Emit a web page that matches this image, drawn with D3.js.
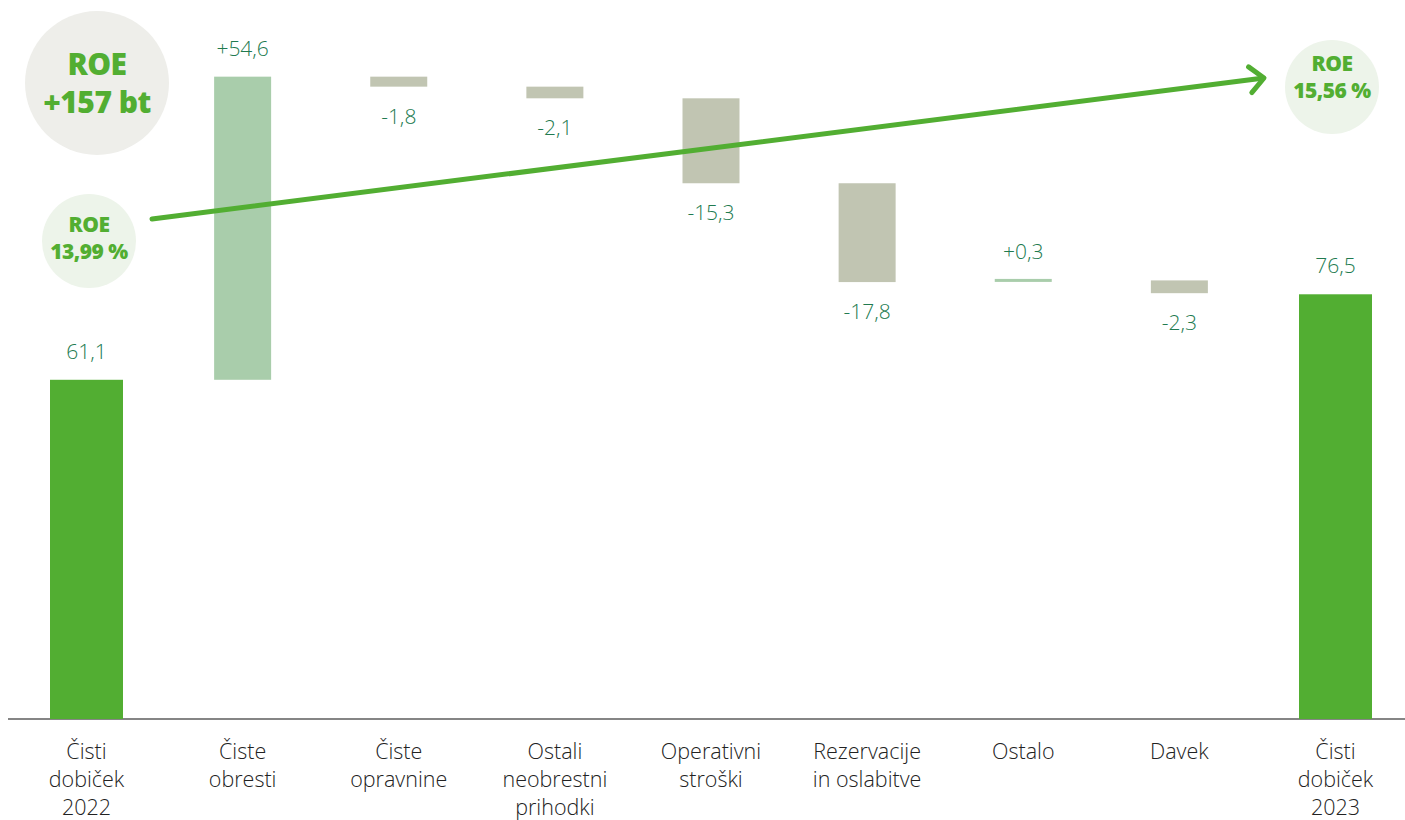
<!DOCTYPE html>
<html><head><meta charset="utf-8">
<script src="https://cdn.jsdelivr.net/npm/d3@7"></script>
<style>
html,body{margin:0;padding:0;background:#fff;}
svg{display:block;font-family:"Open Sans","Noto Sans",sans-serif;}
</style></head>
<body><svg id="chart" width="1405" height="820"></svg>
<script>
const categories = [
  ["Čisti","dobiček","2022"],
  ["Čiste","obresti"],
  ["Čiste","opravnine"],
  ["Ostali","neobrestni","prihodki"],
  ["Operativni","stroški"],
  ["Rezervacije","in oslabitve"],
  ["Ostalo"],
  ["Davek"],
  ["Čisti","dobiček","2023"]
];
const values = [61.1, 54.6, -1.8, -2.1, -15.3, -17.8, 0.3, -2.3, 76.5];
const kinds  = ["total","delta","delta","delta","delta","delta","delta","delta","total"];
const valueLabels = ["61,1","+54,6","-1,8","-2,1","-15,3","-17,8","+0,3","-2,3","76,5"];
const roeStart = ["ROE","13,99 %"];
const roeEnd = ["ROE","15,56 %"];
const roeDelta = ["ROE","+157 bt"];

const svg = d3.select("#chart");
const W = 1405, H = 820;
const baseY = 719;

const x = d3.scalePoint().domain(d3.range(values.length)).range([86.5, 1335.5]);
const y = d3.scaleLinear().domain([0, 116.9]).range([baseY, 70]);

// compute waterfall extents
let cum = 0;
const bars = values.map((v,i)=>{
  let lo, hi;
  if (kinds[i]==="total"){ lo = 0; hi = v; cum = v; }
  else { const s = cum; cum += v; lo = Math.min(s,cum); hi = Math.max(s,cum); }
  return {i, v, lo, hi, kind:kinds[i]};
});

const colTotal = "#52ae32", colPos = "#a9cdab", colNeg = "#c1c5b2";
const textGreen = "#217a4f";

// axis line
svg.append("line").attr("x1",8).attr("x2",W).attr("y1",baseY).attr("y2",baseY)
  .attr("stroke","#858585").attr("stroke-width",2);

// bars
svg.selectAll("rect.bar").data(bars).enter().append("rect")
  .attr("class","bar")
  .attr("x", d => x(d.i) - (d.kind==="total"?36.5:28.5))
  .attr("width", d => d.kind==="total"?73:57)
  .attr("y", d => { const h = y(d.lo)-y(d.hi); return h<3 ? y(d.hi)-1.5 : y(d.hi); })
  .attr("height", d => Math.max(3, y(d.lo)-y(d.hi)))
  .attr("fill", d => d.kind==="total"?colTotal:(d.v>=0?colPos:colNeg));

// value labels
svg.selectAll("text.val").data(bars).enter().append("text")
  .attr("class","val")
  .attr("x", d => x(d.i))
  .attr("y", d => d.v>=0 ? y(d.hi)-21 : y(d.lo)+37)
  .attr("text-anchor","middle")
  .attr("font-size",21).attr("font-weight",300)
  .attr("fill",textGreen)
  .text(d => valueLabels[d.i]);

// category labels
categories.forEach((lines,i)=>{
  const t = svg.append("text").attr("text-anchor","middle")
    .attr("font-size",21.5).attr("font-weight",300).attr("fill","#222");
  lines.forEach((ln,j)=>{
    t.append("tspan").attr("x",x(i)).attr("y",759+j*28).text(ln);
  });
});

// ROE arrow
const ax1 = 152, ay1 = 219, ax2 = 1264, ay2 = 78;
svg.append("line").attr("x1",ax1).attr("y1",ay1).attr("x2",ax2-4).attr("y2",ay2+0.5)
  .attr("stroke",colTotal).attr("stroke-width",5).attr("stroke-linecap","round");
const ang = Math.atan2(ay2-ay1, ax2-ax1);
const hl = 19, ha = 0.75;
const headPts = [
  [ax2 - hl*Math.cos(ang-ha), ay2 - hl*Math.sin(ang-ha)],
  [ax2, ay2],
  [ax2 - hl*Math.cos(ang+ha), ay2 - hl*Math.sin(ang+ha)]
];
svg.append("path").attr("d", d3.line()(headPts))
  .attr("fill","none").attr("stroke",colTotal).attr("stroke-width",5)
  .attr("stroke-linecap","round").attr("stroke-linejoin","round");

// circles
function bubble(cx, cy, r, fill, lines, fs, dy0, lh){
  svg.append("circle").attr("cx",cx).attr("cy",cy).attr("r",r).attr("fill",fill);
  const t = svg.append("text").attr("text-anchor","middle")
    .attr("font-size",fs).attr("font-weight",800).attr("fill",colTotal)
    .attr("letter-spacing",-0.5);
  lines.forEach((ln,j)=>{
    t.append("tspan").attr("x",cx).attr("y",cy+dy0+j*lh).text(ln);
  });
}
bubble(97, 83, 72, "#eeeeea", roeDelta, 30, -8, 38);
bubble(89, 241, 47, "#edf4ea", roeStart, 21, -9, 27);
bubble(1332, 87, 47, "#edf4ea", roeEnd, 21, -16, 27);
</script></body></html>
